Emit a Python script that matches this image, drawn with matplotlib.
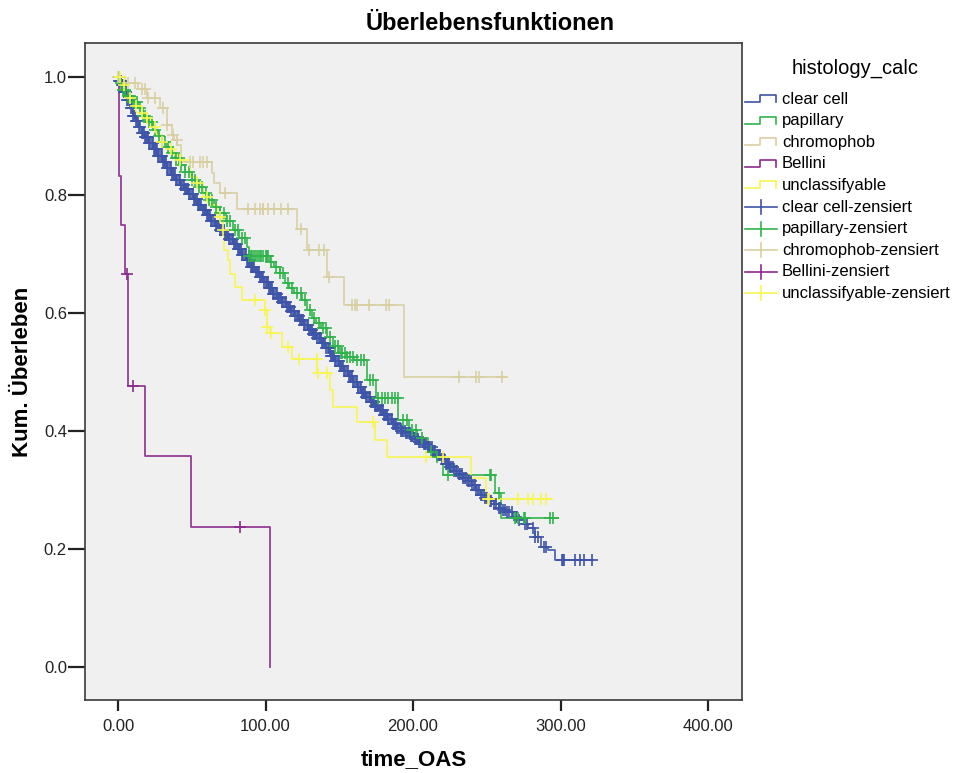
import numpy as np
import matplotlib
matplotlib.use("Agg")
import matplotlib.pyplot as plt
from matplotlib.lines import Line2D

plt.rcParams['font.family'] = ['Liberation Sans', 'DejaVu Sans']

# Kaplan-Meier steps (time_OAS, cumulative survival)
# clear cell
cc_time = [0, 0.5, 2, 4, 6, 8, 10, 12, 14, 16, 18, 21, 24, 27, 30, 33, 36, 39, 42, 45,
           48, 51, 54, 57, 60, 63, 66, 69, 72, 75, 78, 81, 84, 87, 90, 93, 96, 99, 102,
           105, 108, 111, 114, 117, 120, 123, 126, 129, 132, 135, 138, 141, 144, 147,
           150, 153, 156, 159, 162, 165, 168, 171, 174, 177, 180, 183, 186, 189, 192,
           195, 198, 201, 204, 207, 210, 213, 216, 219, 222, 225, 228, 231, 234, 237,
           240, 243, 246, 249, 252, 255, 258, 261, 264, 268, 271, 275, 278, 282.6,
           286.7, 291.4, 296]
cc_surv = [1.0, 0.993, 0.986, 0.975, 0.962, 0.947, 0.934, 0.925, 0.915, 0.906, 0.898,
           0.888, 0.878, 0.867, 0.857, 0.846, 0.835, 0.826, 0.818, 0.811, 0.802, 0.793,
           0.784, 0.775, 0.766, 0.757, 0.748, 0.741, 0.733, 0.726, 0.718, 0.709, 0.699,
           0.690, 0.679, 0.670, 0.661, 0.652, 0.642, 0.633, 0.626, 0.618, 0.610, 0.603,
           0.595, 0.588, 0.580, 0.572, 0.565, 0.557, 0.550, 0.540, 0.528, 0.519, 0.511,
           0.502, 0.494, 0.484, 0.474, 0.465, 0.457, 0.450, 0.442, 0.435, 0.428, 0.420,
           0.412, 0.405, 0.400, 0.396, 0.391, 0.387, 0.382, 0.378, 0.373, 0.366, 0.359,
           0.352, 0.345, 0.339, 0.333, 0.327, 0.321, 0.315, 0.309, 0.300, 0.292, 0.287,
           0.281, 0.276, 0.270, 0.267, 0.263, 0.255, 0.249, 0.242, 0.236, 0.220, 0.203,
           0.198, 0.181]
cc_end = 322
cc_cens = [0.5, 1, 1.8, 2.5, 3.2, 4, 5, 5.7, 6.4, 7, 7.8, 8.5, 9.3, 10, 11, 11.6, 12.3,
           13, 13.8, 14.5, 15.2, 16, 17, 17.7, 18.4, 19, 19.8, 20.5, 21.3, 22, 23, 23.6,
           24.3, 25, 25.8, 26.5, 27.2, 28, 29, 29.7, 30.4, 31, 31.8, 32.5, 33.3, 34, 35,
           35.6, 36.3, 37, 37.8, 38.5, 39.2, 40, 41, 41.7, 42.4, 43, 43.8, 44.5, 45.3, 46,
           47, 47.6, 48.3, 49, 49.8, 50.5, 51.2, 52, 53, 53.7, 54.4, 55, 55.8, 56.5, 57.3,
           58, 59, 59.6, 60.3, 61, 61.8, 62.5, 63.2, 64, 65, 65.7, 66.4, 67, 67.8, 68.5,
           69.3, 70, 71, 71.6, 72.3, 73, 73.8, 74.5, 75.2, 76, 77, 77.7, 78.4, 79, 79.8,
           80.5, 81.3, 82, 83, 83.6, 84.3, 85, 85.8, 86.5, 87.2, 88, 89, 89.7, 90.4, 91,
           91.8, 92.5, 93.3, 94, 95, 95.6, 96.3, 97, 97.8, 98.5, 99.2, 100, 101, 101.7,
           102.4, 103, 103.8, 104.5, 105.3, 106, 107, 107.6, 108.3, 109, 109.8, 110.5,
           111.2, 112, 113, 113.7, 114.4, 115, 115.8, 116.5, 117.3, 118, 119, 119.6,
           120.3, 121, 121.8, 122.5, 123.2, 124, 125, 125.7, 126.4, 127, 127.8, 128.5,
           129.3, 130, 131, 131.6, 132.3, 133, 133.8, 134.5, 135.2, 136, 137, 137.7,
           138.4, 139, 139.8, 140.5, 141.3, 142, 143, 143.6, 144.3, 145, 145.8, 146.5,
           147.2, 148, 149, 149.7, 150.4, 151, 151.8, 152.5, 153.3, 154, 155, 155.6,
           156.3, 157, 157.8, 158.5, 159.2, 160, 161, 161.7, 162.4, 163, 163.8, 164.5,
           165.3, 166, 167, 167.6, 168.3, 169, 169.8, 170.5, 171.2, 172, 173, 173.7,
           174.4, 175, 175.8, 176.5, 177.3, 178, 179, 179.6, 180.3, 181, 181.8, 182.5,
           183.2, 184, 185, 185.7, 186.4, 187, 187.8, 188.5, 189.3, 190, 191, 192, 192.7,
           193.5, 194.2, 195, 196, 197, 197.6, 198.4, 199, 200, 201, 201.8, 202.5, 203.3,
           204, 205, 206, 206.7, 207.5, 208.2, 209, 210, 211, 211.8, 212.6, 213.4, 214,
           215, 216, 217, 217.8, 218.5, 219.3, 220, 221, 222, 223, 223.7, 224.5, 225.3,
           226, 227, 228, 229, 230, 231, 232, 233, 234, 235, 236, 237, 238, 239, 240,
           241, 242, 243, 244, 245, 246, 247, 248, 249, 250, 252, 253, 255, 256, 258,
           259, 261, 262, 264, 265, 267, 270, 272, 276, 277, 281, 283, 285, 289, 290,
           301, 301.8, 302.5, 310, 313, 316, 321]

# papillary
pa_time = [0, 1, 2.7, 6, 9, 13.5, 17, 20.3, 24, 27, 30, 33, 36, 38.6, 42, 45.4, 50, 54,
           57.5, 61, 65, 69, 73, 77.8, 82, 87.3, 89, 103, 106, 109.6, 113, 116, 119.5,
           125, 128, 131.5, 134.5, 137.6, 141.7, 146, 150, 155, 160, 168.6, 175, 190,
           197, 203, 210, 214, 220, 255.7, 259.7]
pa_surv = [1.0, 0.99, 0.978, 0.968, 0.958, 0.947, 0.935, 0.924, 0.911, 0.900, 0.890,
           0.881, 0.871, 0.863, 0.851, 0.839, 0.825, 0.814, 0.803, 0.792, 0.780, 0.769,
           0.757, 0.741, 0.727, 0.712, 0.697, 0.687, 0.678, 0.668, 0.651, 0.643, 0.634,
           0.622, 0.605, 0.592, 0.584, 0.575, 0.559, 0.545, 0.532, 0.525, 0.520, 0.486,
           0.456, 0.419, 0.402, 0.388, 0.365, 0.356, 0.325, 0.295, 0.253]
pa_end = 298
pa_cens = [0.5, 2, 3.5, 5, 6.5, 8, 10, 11.5, 13, 15, 17, 18.5, 21, 23, 25, 27.5, 30, 32,
           34, 36.5, 39, 41, 43, 45.5, 48, 50, 52.5, 55, 57, 59.5, 62, 64, 66.5, 69,
           71.5, 74, 76, 79, 81.5, 84, 86, 89, 90, 91, 92, 93.5, 95, 96, 97, 98.5, 100,
           101, 102, 104, 107, 110, 112, 115, 118, 121, 124, 127, 130, 133, 136, 139,
           141, 144, 147, 149, 151, 152, 154, 155, 157, 159, 162, 165, 167, 170.6, 172.6,
           176, 178.7, 180.8, 182.8, 185.5, 187.5, 189.6, 193, 196, 199, 202, 206, 212,
           216, 223.7, 252, 253, 258, 269, 271, 275, 276, 293, 295]

# chromophob
ch_time = [0, 4.7, 13.5, 19.6, 28.4, 33.1, 36.5, 38, 40, 42.5, 63.5, 64.9, 68.9, 80.4,
           121.6, 128.4, 141.9, 153.4, 193.9]
ch_surv = [1.0, 0.99, 0.98, 0.964, 0.947, 0.919, 0.902, 0.893, 0.885, 0.856, 0.837,
           0.82, 0.803, 0.776, 0.742, 0.707, 0.661, 0.614, 0.492]
ch_end = 262.8
ch_cens = [0, 6.8, 11.5, 16.2, 18.2, 20.3, 25, 30.4, 33.1, 37.2, 39.9, 48.6, 50.7, 55.4,
           57.4, 60.1, 72.3, 87.8, 92.6, 95.9, 98, 98.6, 101.4, 106, 110.8, 114.9, 124.3,
           129.7, 136.5, 139.9, 143.2, 158.8, 160.8, 162.2, 170.3, 181.8, 183.8, 231,
           242.6, 244.6, 260.1]

# Bellini
be_time = [0, 0.7, 2, 4.7, 6.8, 18.3, 49.4, 102.9]
be_surv = [1.0, 0.833, 0.75, 0.667, 0.476, 0.357, 0.238, 0.0]
be_end = 102.9
be_cens = [6, 10.2, 82.6]

# unclassifyable
un_time = [0, 2, 5, 8, 12, 16, 18, 22, 26, 30, 34, 38, 42, 48.7, 53.5, 57.5, 62, 67, 71,
           72, 74.5, 76, 79, 84, 99.5, 101, 103, 111, 118, 135, 143.5, 145.5, 161.8,
           174, 182, 239.6, 249.6]
un_surv = [1.0, 0.987, 0.975, 0.964, 0.952, 0.94, 0.93, 0.915, 0.902, 0.89, 0.878, 0.868,
           0.86, 0.83, 0.82, 0.797, 0.783, 0.763, 0.741, 0.707, 0.69, 0.667, 0.645,
           0.622, 0.605, 0.576, 0.566, 0.542, 0.522, 0.498, 0.47, 0.441, 0.415, 0.385,
           0.356, 0.32, 0.285]
un_end = 294
un_cens = [1.4, 4, 8, 12, 16, 19.6, 25, 30, 36, 42, 53.5, 60, 69, 71, 92.8, 99.5, 101,
           104, 115, 123, 134.7, 135.4, 141.5, 172.6, 209, 220, 251, 251.8, 271, 278,
           281.6, 287, 290]

groups = ['clear cell', 'papillary', 'chromophob', 'Bellini', 'unclassifyable']
colors = ['#3E54A8', '#2FB44B', '#D8D0A2', '#8B2A8D', '#F8F650']
series = [(cc_time, cc_surv, cc_end, cc_cens),
          (pa_time, pa_surv, pa_end, pa_cens),
          (ch_time, ch_surv, ch_end, ch_cens),
          (be_time, be_surv, be_end, be_cens),
          (un_time, un_surv, un_end, un_cens)]

W, H = 959, 773
fig = plt.figure(figsize=(W / 100, H / 100), dpi=100)
ax = fig.add_axes([85 / W, 73 / H, 657 / W, 657 / H])
ax.set_facecolor('#F0F0F0')

# survival lines first, censor marks on top
for (t, s, end, cens), col in zip(series, colors):
    t = list(t)
    s = list(s)
    if t[-1] < end:
        t = t + [end]
        s = s + [s[-1]]
    ax.step(t, s, where='post', color=col, lw=1.3, alpha=0.9)
for (t, s, end, cens), col in zip(series, colors):
    t_arr = np.array(t)
    s_arr = np.array(s)
    idx = np.searchsorted(t_arr, np.array(cens), side='right') - 1
    ax.plot(cens, s_arr[idx], ls='none', marker='+', ms=8, mew=1.2, color=col)

ax.set_xlim(-22.4, 423)
ax.set_ylim(-0.056, 1.058)
ax.set_xticks([0, 100, 200, 300, 400])
ax.set_xticklabels(['0.00', '100.00', '200.00', '300.00', '400.00'])
ax.set_yticks([0.0, 0.2, 0.4, 0.6, 0.8, 1.0])
ax.set_yticklabels(['0.0', '0.2', '0.4', '0.6', '0.8', '1.0'])
ax.tick_params(axis='x', length=8, width=1.6, pad=6, labelsize=12, colors='#222222')
ax.tick_params(axis='y', length=12, width=1.6, pad=1, labelsize=12, colors='#222222')
for sp in ax.spines.values():
    sp.set_color('#3a3a3a')
    sp.set_linewidth(1.2)

ax.set_xlabel('time_OAS', fontsize=16, fontweight='bold')
ax.set_ylabel('Kum. Überleben', fontsize=16, fontweight='bold')
ax.xaxis.set_label_coords(0.5, -0.074)
ax.yaxis.set_label_coords(-0.079, 0.5)

fig.text(490 / W, 1 - 24 / H, 'Überlebensfunktionen', fontsize=17, fontweight='bold',
         ha='center', va='center')


# legend drawn by hand in pixel positions
def px(x, y):
    return x / W, 1 - y / H


fig.text(*px(855, 68), 'histology_calc', fontsize=14.5, ha='center', va='center')
labels = groups + [g + '-zensiert' for g in groups]
for i, lab in enumerate(labels):
    yc = 99 + i * 21.6
    col = colors[i % 5]
    if i < 5:
        xs = [745, 760, 760, 776, 776]
        ys = [yc + 3, yc + 3, yc - 4, yc - 4, yc + 3]
        pts = [px(a, b) for a, b in zip(xs, ys)]
        fig.add_artist(Line2D([p[0] for p in pts], [p[1] for p in pts], color=col,
                              lw=1.2, transform=fig.transFigure))
    else:
        a, b = px(745, yc)
        c, d = px(777, yc)
        fig.add_artist(Line2D([a, c], [b, d], color=col, lw=1.2, transform=fig.transFigure))
        a, b = px(761, yc - 7)
        c, d = px(761, yc + 7)
        fig.add_artist(Line2D([a, c], [b, d], color=col, lw=1.2, transform=fig.transFigure))
    fig.text(*px(782, yc), lab, fontsize=12, ha='left', va='center')

plt.savefig('out.png', dpi=100)
plt.close()
